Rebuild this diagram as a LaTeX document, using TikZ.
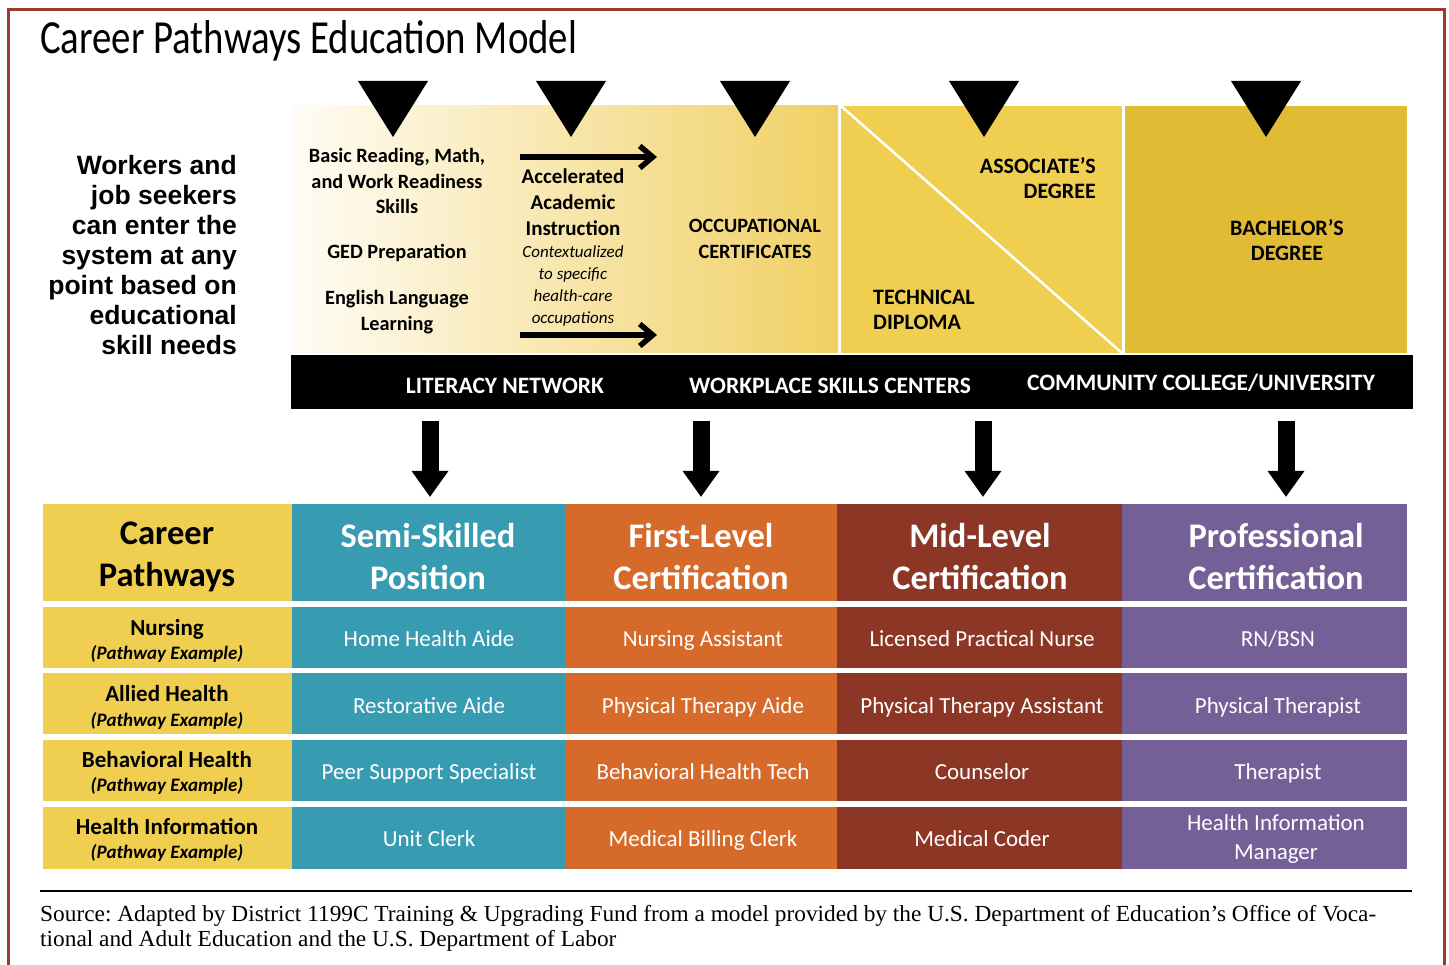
\documentclass[tikz,border=0pt]{standalone}
\usepackage{fontspec}
\usepackage{graphicx}
\setmainfont{Carlito}
\newfontfamily\arialf{Liberation Sans}
\newfontfamily\srcf{Liberation Serif}
\usetikzlibrary{arrows.meta}
\definecolor{framec}{HTML}{9C3B2B}
\definecolor{cyel}{HTML}{EFCE50}
\definecolor{cgold}{HTML}{E2BB35}
\definecolor{cteal}{HTML}{379BB2}
\definecolor{corange}{HTML}{D66A2A}
\definecolor{cbrown}{HTML}{8C3626}
\definecolor{cpurple}{HTML}{745F97}
\definecolor{gradL}{HTML}{FFFCF4}
\definecolor{gradR}{HTML}{F0D064}
\begin{document}
\begin{tikzpicture}[x=1pt,y=-1pt,
  band/.style={font=\fontsize{20.3}{25.5}\selectfont\bfseries, align=center, inner sep=0},
  degree/.style={font=\fontsize{22}{25.5}\selectfont\bfseries, inner sep=0},
  bandit/.style={font=\fontsize{17}{22}\selectfont\itshape, align=center, inner sep=0},
  bartxt/.style={font=\fontsize{23.5}{28}\selectfont\bfseries, text=white, inner sep=0},
  headtxt/.style={font=\fontsize{34.5}{42}\selectfont\bfseries, align=center, inner sep=0},
  celltxt/.style={font=\fontsize{23}{29}\selectfont, text=white, inner sep=0, text height=16pt, text depth=0pt},
  celltwo/.style={font=\fontsize{23}{29}\selectfont, text=white, align=center, inner sep=0},
  pathname/.style={font=\fontsize{23}{26}\selectfont\bfseries, inner sep=0, text height=16pt, text depth=0pt},
  pathex/.style={font=\fontsize{19}{22}\selectfont\bfseries\itshape, inner sep=0, text height=13pt, text depth=0pt},
  entrytri/.style={fill=black},
  flowarrow/.style={line width=5.5pt, -{Straight Barb[length=13pt,width=22pt]}},
  blockarrow/.style={line width=17pt, -{Triangle[length=26pt,width=35pt]}},
]
\useasboundingbox (0,0) rectangle (1449,965);
\fill[white] (0,0) rectangle (1449,965);
\clip (0,0) rectangle (1449,965);
\draw[framec, line width=3pt] (8,975) -- (8,10) -- (1444,10) -- (1444,975);

% title
\node[anchor=base west, inner sep=0] (title) at (40,54)
  {\resizebox{537pt}{\height}{\fontsize{47.5}{50}\selectfont Career Pathways Education Model}};

% intro text
\node[anchor=east, align=right, inner sep=0, font=\arialf\bfseries\fontsize{26.5}{30}\selectfont] (intro) at (237,255)
  {Workers and\\job seekers\\can enter the\\system at any\\point based on\\educational\\skill needs};

% top band
\shade[left color=gradL, right color=gradR] (293,106) rectangle (838,353);
\fill[cyel] (841,106) rectangle (1122,353);
\fill[cgold] (1125,106) rectangle (1407,353);
\draw[white, line width=2.5pt] (841,106) -- (1123,354);

% entry triangles
\fill[entrytri] (358,81) -- (428,81) -- (393,137) -- cycle;
\fill[entrytri] (536,81) -- (606,81) -- (571,137) -- cycle;
\fill[entrytri] (720,81) -- (790,81) -- (755,137) -- cycle;
\fill[entrytri] (949,81) -- (1019,81) -- (984,137) -- cycle;
\fill[entrytri] (1231,81) -- (1301,81) -- (1266,137) -- cycle;

% band texts
\node[band] (basic) at (397,181) {Basic Reading, Math,\\and Work Readiness\\Skills};
\node[band] (ged) at (397,253) {GED Preparation};
\node[band] (esl) at (397,312) {English Language\\Learning};
\node[band, font=\fontsize{21}{26}\selectfont\bfseries] (accel) at (573,202) {Accelerated\\Academic\\Instruction};
\node[bandit] (ctx) at (573,286) {Contextualized\\to specific\\health-care\\occupations};
\node[band] (occ) at (755,239) {OCCUPATIONAL\\CERTIFICATES};
\node[degree, anchor=east, align=right] (assoc) at (1096,178) {ASSOCIATE’S\\DEGREE};
\node[degree, anchor=west, align=left] (tech) at (873,310) {TECHNICAL\\DIPLOMA};
\node[degree, align=center] (bach) at (1287,240) {BACHELOR’S\\DEGREE};

% band arrows
\coordinate (ua1) at (520,157);
\coordinate (ua2) at (657,157);
\coordinate (la1) at (520,335);
\coordinate (la2) at (657,335);
\draw[flowarrow] (ua1) -- (ua2);
\draw[flowarrow] (la1) -- (la2);

% black bar
\fill[black] (291,355) rectangle (1413,409);
\node[bartxt] (lit) at (505,386) {LITERACY NETWORK};
\node[bartxt] (wsc) at (830,386) {WORKPLACE SKILLS CENTERS};
\node[bartxt] (ccu) at (1201,383) {COMMUNITY COLLEGE/UNIVERSITY};

% down arrows
\coordinate (d1a) at (430,421); \coordinate (d1b) at (430,497);
\coordinate (d2a) at (701,421); \coordinate (d2b) at (701,497);
\coordinate (d3a) at (983,421); \coordinate (d3b) at (983,497);
\coordinate (d4a) at (1286,421); \coordinate (d4b) at (1286,497);
\draw[blockarrow] (d1a) -- (d1b);
\draw[blockarrow] (d2a) -- (d2b);
\draw[blockarrow] (d3a) -- (d3b);
\draw[blockarrow] (d4a) -- (d4b);

% table cells
\foreach \ya/\yb in {504/601, 607/668, 673/734, 740/801, 807/869} {
  \fill[cyel] (43,\ya) rectangle (292,\yb);
  \fill[cteal] (292,\ya) rectangle (565,\yb);
  \fill[corange] (565,\ya) rectangle (837,\yb);
  \fill[cbrown] (837,\ya) rectangle (1122,\yb);
  \fill[cpurple] (1122,\ya) rectangle (1407,\yb);
}

% header
\node[headtxt] (h0) at (167,557) {Career\\Pathways};
\node[headtxt, text=white] (h1) at (428,557) {Semi-Skilled\\Position};
\node[headtxt, text=white] (h2) at (701,557) {First-Level\\Certification};
\node[headtxt, text=white] (h3) at (980,557) {Mid-Level\\Certification};
\node[headtxt, text=white] (h4) at (1276,557) {Professional\\Certification};

% pathway names
\node[pathname] (p1) at (167,627) {Nursing};
\node[pathex] (p1e) at (167,653) {(Pathway Example)};
\node[pathname] (p2) at (167,693) {Allied Health};
\node[pathex] (p2e) at (167,720) {(Pathway Example)};
\node[pathname] (p3) at (167,759) {Behavioral Health};
\node[pathex] (p3e) at (167,785) {(Pathway Example)};
\node[pathname] (p4) at (167,826) {Health Information};
\node[pathex] (p4e) at (167,852) {(Pathway Example)};

% cells
\node[celltxt] (c11) at (429,638) {Home Health Aide};
\node[celltxt] (c12) at (703,638) {Nursing Assistant};
\node[celltxt] (c13) at (982,638) {Licensed Practical Nurse};
\node[celltxt] (c14) at (1278,638) {RN/BSN};
\node[celltxt] (c21) at (429,705) {Restorative Aide};
\node[celltxt] (c22) at (703,705) {Physical Therapy Aide};
\node[celltxt] (c23) at (982,705) {Physical Therapy Assistant};
\node[celltxt] (c24) at (1278,705) {Physical Therapist};
\node[celltxt] (c31) at (429,771) {Peer Support Specialist};
\node[celltxt] (c32) at (703,771) {Behavioral Health Tech};
\node[celltxt] (c33) at (982,771) {Counselor};
\node[celltxt] (c34) at (1278,771) {Therapist};
\node[celltxt] (c41) at (429,838) {Unit Clerk};
\node[celltxt] (c42) at (703,838) {Medical Billing Clerk};
\node[celltxt] (c43) at (982,838) {Medical Coder};
\node[celltwo] (c44) at (1276,839) {Health Information\\Manager};

% source
\draw[line width=1.5pt] (40,891) -- (1412,891);
\node[anchor=base west, inner sep=0] (src) at (40,921)
  {\resizebox{1336pt}{\height}{\srcf\frenchspacing\fontsize{23}{25.5}\selectfont\begin{tabular}[t]{@{}l@{}}Source: Adapted by District 1199C Training \& Upgrading Fund from a model provided by the U.S. Department of Education’s Office of Voca-\\tional and Adult Education and the U.S. Department of Labor\end{tabular}}};
\end{tikzpicture}
\end{document}
